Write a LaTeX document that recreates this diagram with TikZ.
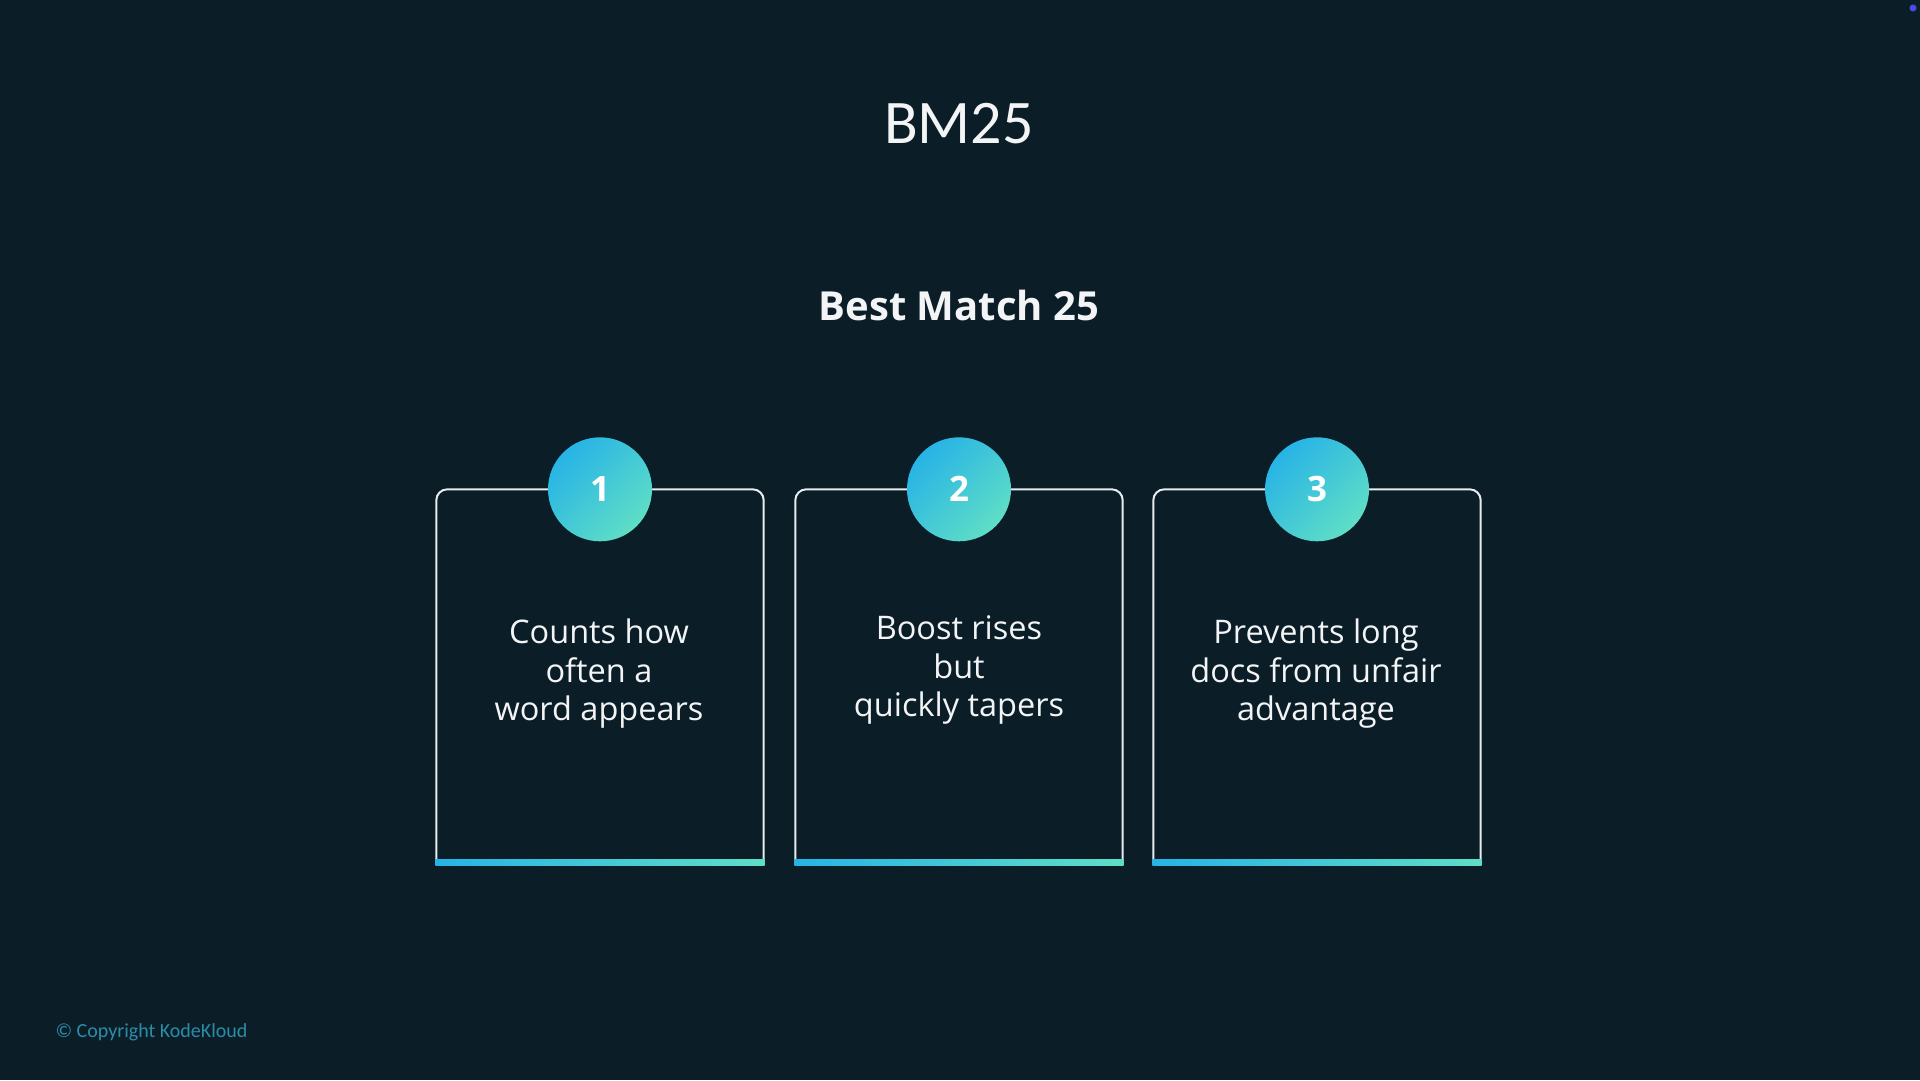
\documentclass[tikz,border=0pt]{standalone}
\usepackage{fontspec}
\setmainfont{Open Sans}
\newfontfamily\calfont{Carlito}
\usetikzlibrary{positioning}
\definecolor{bgdark}{HTML}{0B1E28}
\definecolor{lineclr}{HTML}{E6ECEF}
\definecolor{txtclr}{HTML}{F2F4F5}
\definecolor{cblue}{HTML}{27B3E6}
\definecolor{cteal}{HTML}{5FDEC6}
\definecolor{copyclr}{HTML}{2A8DA8}
\definecolor{dotclr}{HTML}{4A4CE6}

\begin{document}
\begin{tikzpicture}[x=1pt,y=-1pt,
    card/.style={draw=none,minimum width=327pt,minimum height=373pt,inner sep=0pt},
    cardline/.style={draw=lineclr,line width=2pt,rounded corners=11pt},
    bar/.style={left color=cblue,right color=cteal,draw=none},
    num/.style={circle,minimum size=104pt,inner sep=0pt,top color=cblue,bottom color=cteal,
      shading angle=45,text=white,font=\fontsize{35}{35}\selectfont\bfseries},
    body/.style={align=center,text=txtclr,font=\fontsize{32.5}{38.5}\selectfont}]
  \fill[bgdark] (0,0) rectangle (1920,1080);
  \node[text=txtclr,font=\fontsize{62}{62}\selectfont\calfont] (title) at (959,124) {BM25};
  \node[text=txtclr,font=\fontsize{40}{40}\selectfont\bfseries] (sub) at (959,305) {Best Match 25};

  \node[card] (c1) at (600,676) {};
  \node[card] (c2) at (959,676) {};
  \node[card] (c3) at (1317,676) {};

  \begin{scope}
    \draw[cardline] (c1.south west) |- (c1.north) -| (c1.south east);
    \draw[cardline] (c2.south west) |- (c2.north) -| (c2.south east);
    \draw[cardline] (c3.south west) |- (c3.north) -| (c3.south east);
    \shade[bar] ([yshift=3.5pt,xshift=-1pt]c1.south west) rectangle ([yshift=-3pt,xshift=1pt]c1.south east);
    \shade[bar] ([yshift=3.5pt,xshift=-1pt]c2.south west) rectangle ([yshift=-3pt,xshift=1pt]c2.south east);
    \shade[bar] ([yshift=3.5pt,xshift=-1pt]c3.south west) rectangle ([yshift=-3pt,xshift=1pt]c3.south east);
  \end{scope}

  \node[num] (n1) at (c1.north) {1};
  \node[num] (n2) at (c2.north) {2};
  \node[num] (n3) at (c3.north) {3};

  \node[body] (t1) at (599,674) {Counts how\\often a\\word appears};
  \node[body] (t2) at (959,670) {Boost rises\\but\\quickly tapers};
  \node[body] (t3) at (1316,674) {Prevents long\\docs from unfair\\advantage};

  \node[anchor=west,text=copyclr,font=\fontsize{20}{20}\selectfont\calfont] (copy) at (52,1032) {\textcopyright{} Copyright KodeKloud};
  \fill[dotclr] (1913,8) circle (3.5);
\end{tikzpicture}
\end{document}
